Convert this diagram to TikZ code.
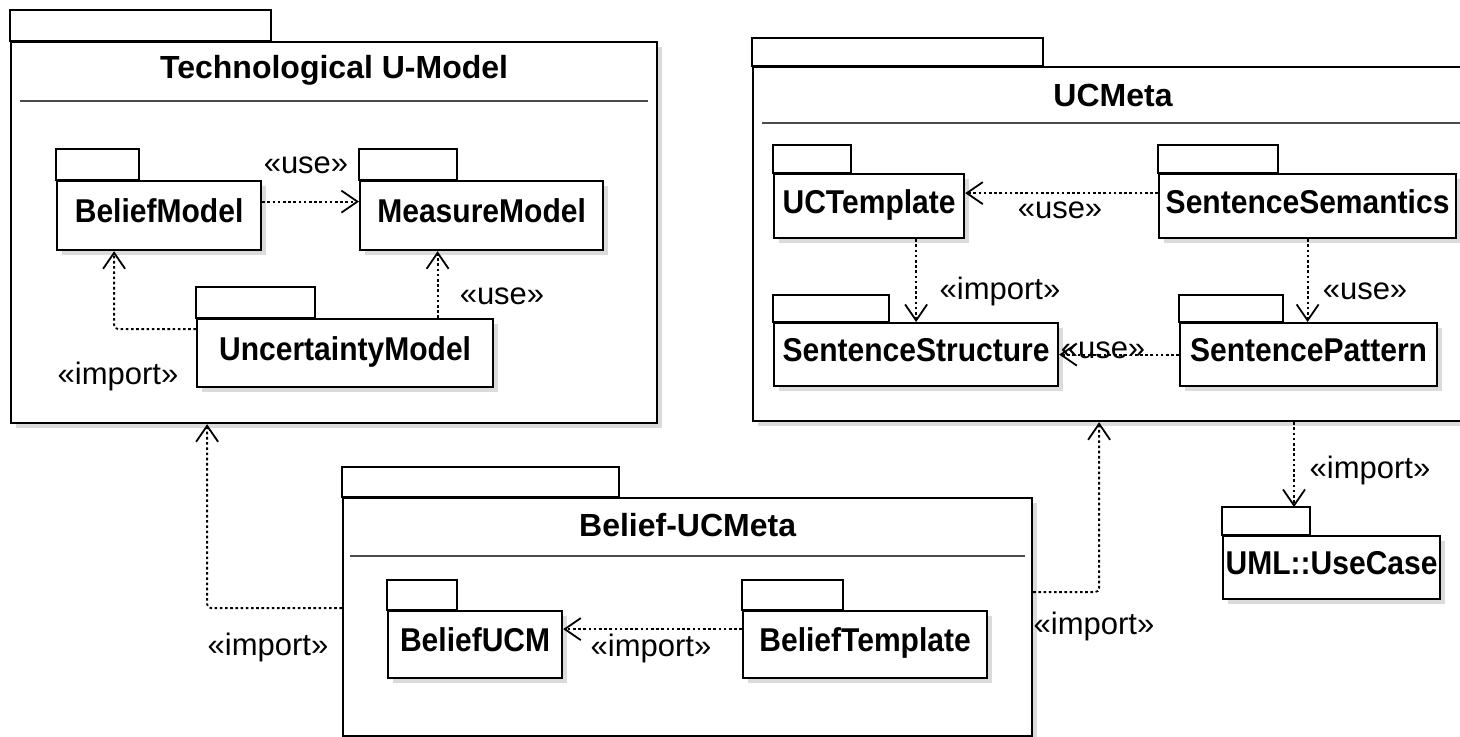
\documentclass[tikz,border=0pt]{standalone}
\usepackage{fontspec}
\setmainfont{Liberation Sans}
\newfontfamily\pkgfont[FakeStretch=0.91]{Liberation Sans}
\usetikzlibrary{arrows.meta,shadows,positioning}

\tikzset{
  pkg/.style={draw, line width=1.1pt, fill=white, anchor=north west, inner sep=0pt,
    font=\pkgfont\bfseries\fontsize{16.5}{18}\selectfont, text height=12pt, text depth=5pt,
    drop shadow={shadow xshift=2.5pt, shadow yshift=-2.5pt, fill=black!20, opacity=0.7}},
  pkgtab/.style={line width=1.1pt, fill=white},
  pkgtitle/.style={font=\bfseries\fontsize{16}{18}\selectfont, inner sep=0pt},
  pkgline/.style={line width=0.7pt, black!70},
  dep/.style={line width=0.9pt, dash pattern=on 1.3pt off 1.3pt,
    -{Straight Barb[length=8pt, width=11pt, line width=0.9pt]}},
  stereo/.style={font=\fontsize{15.5}{17}\selectfont, inner sep=1pt}
}

\begin{document}
\begin{tikzpicture}[x=0.5pt, y=-0.5pt]
   \clip (0,0) rectangle (1460,736);
   \fill[white] (0,0) rectangle (1460,736);

   % Technological U-Model
   \node[pkg, minimum width=323pt, minimum height=190.5pt] (tum) at (10,41) {};
   \filldraw[pkgtab] (tum.north west) rectangle ++(261,-31);
   \node[pkgtitle] (tum-title) at ([yshift=-14.5pt]tum.north) {Technological U-Model};
   \draw[pkgline] ([xshift=5pt, yshift=-30pt]tum.north west) -- ([xshift=-5pt, yshift=-30pt]tum.north east);

   \node[pkg, minimum width=102pt, minimum height=34.5pt] (bm) at (56,180) {BeliefModel};
   \filldraw[pkgtab] (bm.north west) rectangle ++(83,-31);
   \node[pkg, minimum width=121.5pt, minimum height=34.5pt] (mm) at (359,180) {MeasureModel};
   \filldraw[pkgtab] (mm.north west) rectangle ++(98,-31);
   \node[pkg, minimum width=148pt, minimum height=34pt] (um) at (196,318) {UncertaintyModel};
   \filldraw[pkgtab] (um.north west) rectangle ++(119,-31);

   \draw[dep] ([yshift=7pt]bm.east) -- ([yshift=7pt]mm.west);
   \draw[dep, rounded corners=2pt] ([yshift=12pt]um.west) -| ([xshift=-22.5pt]bm.south);
   \draw[dep] ([xshift=-22pt]mm.south |- um.north) -- ([xshift=-22pt]mm.south);
   \node[stereo] (l-bm-mm) at (306,165) {«use»};
   \node[stereo] (l-um-bm) at (118,376) {«import»};
   \node[stereo] (l-um-mm) at (502,296) {«use»};

   % UCMeta
   \node[pkg, minimum width=361.5pt, minimum height=177pt] (ucm) at (752,66) {};
   \filldraw[pkgtab] (ucm.north west) rectangle ++(291,-28);
   \node[pkgtitle] (ucm-title) at (1113,95) {UCMeta};
   \draw[pkgline] (762,123) -- (1470,123);

   \node[pkg, minimum width=95pt, minimum height=32pt] (uct) at (773,173) {UCTemplate};
   \filldraw[pkgtab] (uct.north west) rectangle ++(78,-28);
   \node[pkg, minimum width=148.5pt, minimum height=32pt] (ss) at (1158,173) {SentenceSemantics};
   \filldraw[pkgtab] (ss.north west) rectangle ++(120,-28);
   \node[pkg, minimum width=142pt, minimum height=31.5pt] (sst) at (773,322) {SentenceStructure};
   \filldraw[pkgtab] (sst.north west) rectangle ++(116,-27);
   \node[pkg, minimum width=128.5pt, minimum height=31.5pt] (sp) at (1179,322) {SentencePattern};
   \filldraw[pkgtab] (sp.north west) rectangle ++(104,-27);

   \draw[dep] ([yshift=6.5pt]ss.west) -- ([yshift=6.5pt]uct.east);
   \draw[dep] (uct.south -| sst.north) -- (sst.north);
   \draw[dep] (ss.south) -- (ss.south |- sp.north);
   \draw[dep] (sp.west) -- (sp.west -| sst.east);
   \node[stereo] (l-ss-uct) at (1060,210) {«use»};
   \node[stereo] (l-uct-sst) at (1000,291) {«import»};
   \node[stereo] (l-ss-sp) at (1365,291) {«use»};
   \node[stereo] (l-sp-sst) at (1103,350) {«use»};

   % UML::UseCase
   \node[pkg, minimum width=108.5pt, minimum height=31.5pt] (uml) at (1222,535) {UML::UseCase};
   \filldraw[pkgtab] (uml.north west) rectangle ++(88,-28) coordinate (uml-tab);
   \draw[dep] ([xshift=-8pt]uml-tab |- ucm.south) -- ([xshift=-8pt]uml-tab);
   \node[stereo] (l-ucm-uml) at (1370,470) {«import»};

   % Belief-UCMeta
   \node[pkg, minimum width=344.5pt, minimum height=119pt] (bucm) at (342,497) {};
   \filldraw[pkgtab] (bucm.north west) rectangle ++(277,-30);
   \node[pkgtitle] (bucm-title) at ([yshift=-14pt]bucm.north) {Belief-UCMeta};
   \draw[pkgline] ([xshift=4pt, yshift=-29.5pt]bucm.north west) -- ([xshift=-4pt, yshift=-29.5pt]bucm.north east);

   \node[pkg, minimum width=87pt, minimum height=33.5pt] (bu) at (387,610) {BeliefUCM};
   \filldraw[pkgtab] (bu.north west) rectangle ++(70,-30);
   \node[pkg, minimum width=122pt, minimum height=33.5pt] (bt) at (742,610) {BeliefTemplate};
   \filldraw[pkgtab] (bt.north west) rectangle ++(101,-30);

   \draw[dep] ([yshift=7.75pt]bt.west) -- ([yshift=7.75pt]bu.east);
   \node[stereo] (l-bt-bu) at (651,648) {«import»};

   \draw[dep, rounded corners=2pt] ([yshift=4.5pt]bucm.west) -| ([xshift=-63.5pt]tum.south);
   \draw[dep, rounded corners=2pt] ([yshift=12.5pt]bucm.east) -| ([xshift=-7.75pt]ucm.south);
   \node[stereo] (l-bucm-tum) at (268,647) {«import»};
   \node[stereo] (l-bucm-ucm) at (1094,626) {«import»};
\end{tikzpicture}
\end{document}
